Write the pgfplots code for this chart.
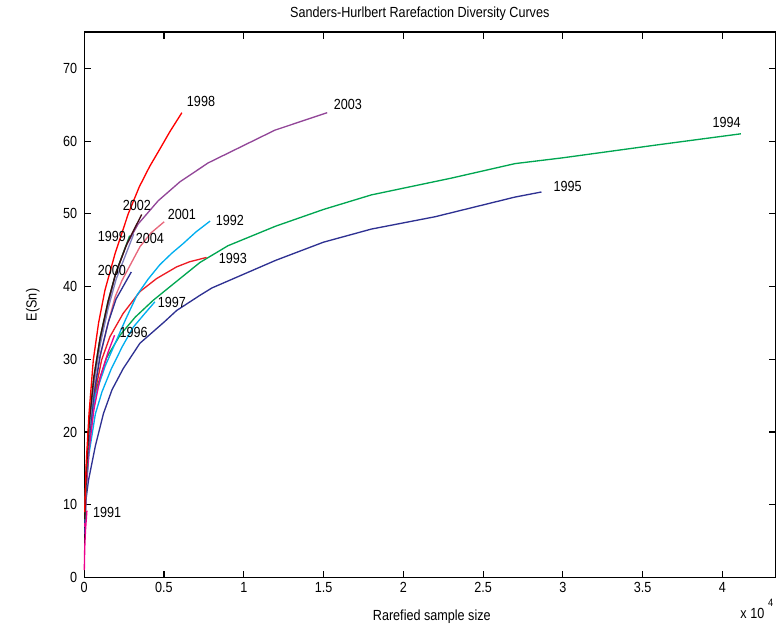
\documentclass[border=0pt]{standalone}
\usepackage{fontspec}
\setmainfont{Liberation Sans}[FakeStretch=0.86]
\usepackage{pgfplots}
\pgfplotsset{compat=1.18}
\definecolor{cRedA}{RGB}{255,0,0}
\definecolor{cRedB}{RGB}{237,28,36}
\definecolor{cGreen}{RGB}{0,166,81}
\definecolor{cNavy}{RGB}{46,49,146}
\definecolor{cCyan}{RGB}{0,174,239}
\definecolor{cPurple}{RGB}{146,70,152}
\definecolor{cPink}{RGB}{232,104,124}
\definecolor{cDark}{RGB}{60,12,18}
\definecolor{cLav}{RGB}{128,128,190}
\definecolor{cMag}{RGB}{236,0,140}
\begin{document}
\fontsize{11}{13}\selectfont
\begin{tikzpicture}[x=1pt,y=1pt]
\path[use as bounding box] (-63.2,-40.7) rectangle (519.1,433.3);
\begin{axis}[
  at={(0,0)}, anchor=south west,
  width=518.6pt, height=409.3pt, scale only axis,
  xmin=0, xmax=4.332, ymin=0, ymax=75,
  xtick={0,0.5,1,1.5,2,2.5,3,3.5,4},
  xticklabels={0,0.5,1,1.5,2,2.5,3,3.5,4},
  ytick={0,10,20,30,40,50,60,70},
  /pgf/number format/assume math mode=true,
  tick align=inside, major tick length=5pt,
  axis line style={line width=0.8pt},
  every tick/.style={black, line width=0.8pt},
  yticklabel style={xshift=-1.5pt},
  every axis plot/.append style={line width=1pt, no markers},
  clip=false,
]
% 1995
\addplot[cNavy] coordinates {(0.003,6) (0.011,10.7) (0.027,13.4) (0.069,18) (0.12,22.5) (0.174,25.8) (0.244,28.7) (0.349,32.2) (0.5,35.1) (0.579,36.7) (0.726,38.8) (0.8,39.8) (1.2,43.6) (1.5,46.1) (1.8,47.9) (2.2,49.6) (2.7,52.3) (2.866,53.0)};
% 1994
\addplot[cGreen] coordinates {(0.003,8) (0.01,13) (0.03,20) (0.07,25.5) (0.14,30.2) (0.224,33.3) (0.32,35.8) (0.432,38.1) (0.55,40.2) (0.725,43.3) (0.9,45.6) (1.2,48.3) (1.5,50.6) (1.8,52.6) (2.3,54.9) (2.7,56.9) (3.0,57.7) (3.6,59.5) (4.116,61.0)};
% 1993
\addplot[cRedB] coordinates {(0.003,7) (0.01,12) (0.025,18) (0.05,23.5) (0.109,29.9) (0.161,33.1) (0.244,36.3) (0.349,39.3) (0.454,41.1) (0.579,42.7) (0.66,43.4) (0.767,44.0)};
% 1992
\addplot[cCyan] coordinates {(0.003,7.5) (0.012,12.5) (0.03,18) (0.069,25) (0.13,29) (0.2,32.5) (0.26,35.5) (0.33,38.8) (0.40,41.0) (0.474,43.0) (0.55,44.6) (0.62,45.9) (0.7,47.5) (0.789,49.0)};
% 1997
\addplot[cCyan] coordinates {(0.003,7) (0.012,12) (0.03,17) (0.07,22.5) (0.111,25.5) (0.17,28.7) (0.24,31.8) (0.307,34.4) (0.38,36.3) (0.443,37.9)};
% 1996
\addplot[cMag] coordinates {(0.003,7) (0.012,12) (0.03,17.5) (0.06,23) (0.1,27.5) (0.15,31) (0.19,33.3)};
% 1991
\addplot[cMag] coordinates {(0.0005,1) (0.003,4) (0.008,6.5) (0.017,9.2)};
% 2003
\addplot[cPurple] coordinates {(0.003,8) (0.012,14) (0.03,20.5) (0.06,27) (0.1,32.5) (0.15,37.5) (0.194,41.5) (0.26,45.5) (0.338,48.6) (0.464,51.8) (0.6,54.4) (0.777,57) (1.195,61.5) (1.523,63.9)};
% 2001
\addplot[cPink] coordinates {(0.003,7.5) (0.012,13) (0.03,19) (0.06,25.5) (0.1,30.5) (0.15,35) (0.194,38.6) (0.236,40.8) (0.35,45.5) (0.42,47.4) (0.501,48.9)};
% 2000
\addplot[cNavy] coordinates {(0.003,7.5) (0.012,13) (0.03,19) (0.06,25) (0.1,30.5) (0.15,35) (0.2,38.3) (0.295,42)};
% 2004
\addplot[cLav] coordinates {(0.003,8) (0.012,13.5) (0.03,20) (0.06,26.5) (0.1,32) (0.15,37) (0.2,41) (0.31,47.2)};
% 1999
\addplot[cGreen] coordinates {(0.003,8) (0.012,14) (0.03,21) (0.06,27.5) (0.1,33) (0.15,38) (0.2,42) (0.285,47)};
% 2002
\addplot[cDark] coordinates {(0.003,8) (0.012,14) (0.03,21) (0.06,27.5) (0.1,33) (0.15,38) (0.2,42) (0.27,46) (0.36,49.9)};
% 1998
\addplot[cRedA] coordinates {(0.003,9) (0.012,15.5) (0.03,22.5) (0.057,29.9) (0.09,35) (0.13,39.5) (0.193,44.5) (0.276,50) (0.345,53.7) (0.41,56.5) (0.474,58.9) (0.537,61.3) (0.612,63.9)};
% labels
\node at (axis cs:0.732,65.4) {1998};
\node at (axis cs:1.652,65.0) {2003};
\node at (axis cs:4.026,62.5) {1994};
\node at (axis cs:3.03,53.8) {1995};
\node at (axis cs:0.33,51.1) {2002};
\node at (axis cs:0.612,49.9) {2001};
\node at (axis cs:0.913,49.1) {1992};
\node at (axis cs:0.174,46.9) {1999};
\node at (axis cs:0.412,46.6) {2004};
\node at (axis cs:0.174,42.2) {2000};
\node at (axis cs:0.932,43.9) {1993};
\node at (axis cs:0.55,37.8) {1997};
\node at (axis cs:0.31,33.7) {1996};
\node at (axis cs:0.143,8.9) {1991};
\end{axis}
\node at (251.8,422.8) {Sanders-Hurlbert Rarefaction Diversity Curves};
\node at (260.8,-29.6) {Rarefied sample size};
\node[rotate=90] at (-38.5,204.5) {E(Sn)};
\node[anchor=east, inner sep=0pt] at (510.5,-27) {x 10};
\node[anchor=west, inner sep=0pt, font=\fontsize{8}{9}\selectfont] at (513,-19) {4};
\end{tikzpicture}
\end{document}
